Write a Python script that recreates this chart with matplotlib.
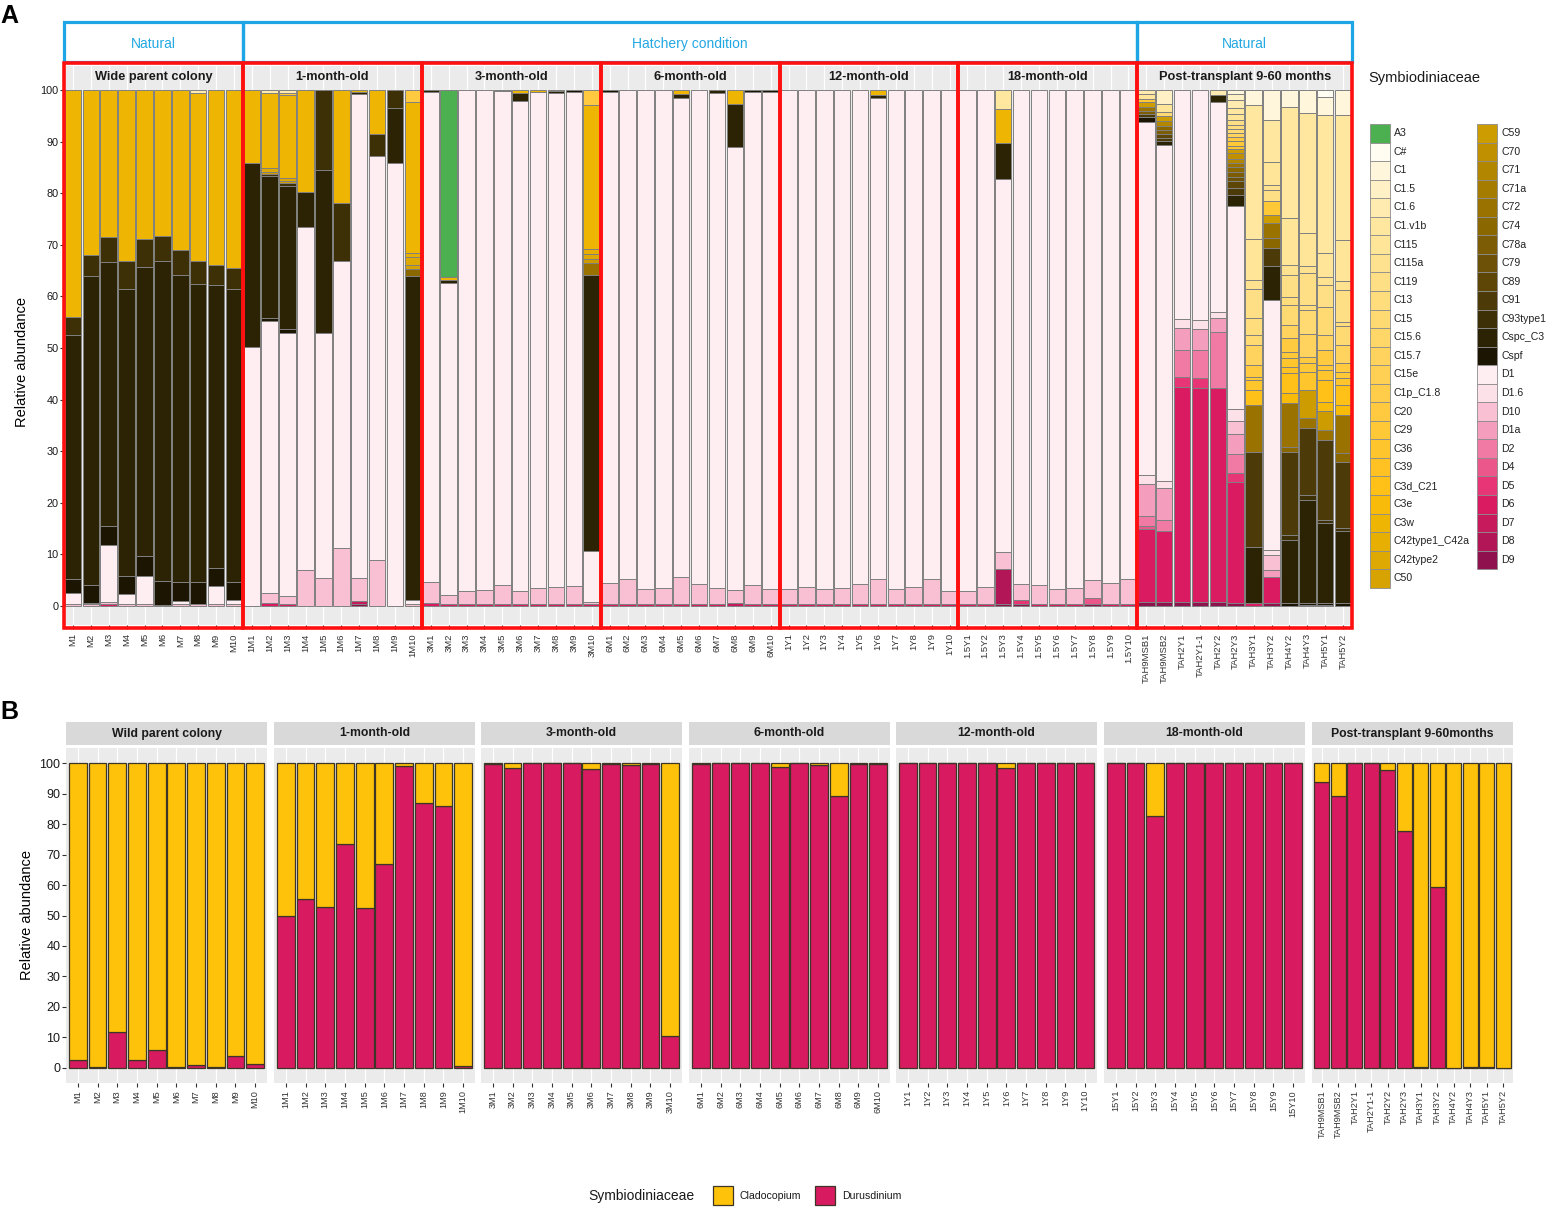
import numpy as np
import matplotlib
matplotlib.use("Agg")
import matplotlib.pyplot as plt
from matplotlib.patches import Rectangle
from matplotlib.transforms import blended_transform_factory

plt.rcParams['font.family'] = ['Liberation Sans', 'DejaVu Sans']

# ---------------- DATA ----------------
types = ["A3", "C#", "C1", "C1.5", "C1.6", "C1.v1b", "C115", "C115a", "C119", "C13", "C15", "C15.6",
         "C15.7", "C15e", "C1p_C1.8", "C20", "C29", "C36", "C39", "C3d_C21", "C3e", "C3w",
         "C42type1_C42a", "C42type2", "C50",
         "C59", "C70", "C71", "C71a", "C72", "C74", "C78a", "C79", "C89", "C91", "C93type1",
         "Cspc_C3", "Cspf", "D1", "D1.6", "D10", "D1a", "D2", "D4", "D5", "D6", "D7", "D8", "D9"]
type_colors = ["#4CAF50", "#FFFCF2", "#FFF6DC", "#FFF0C6", "#FFEBB0", "#FFE7A0", "#FFE598", "#FFE290",
               "#FFDF86", "#FFDC7C", "#FFD972", "#FFD668", "#FFD35E", "#FFD054", "#FFCD4A", "#FFCA40",
               "#FFC836", "#FFC52C", "#FFC222", "#FFC018", "#F8BB0A", "#EFB503", "#E6AF02", "#DEA902",
               "#D6A303",
               "#CC9C00", "#C09000", "#B38600", "#A67C00", "#997200", "#8B6700", "#7C5C04", "#6D5106",
               "#5E4607", "#4C3A08", "#3E3006", "#2C2204", "#1C1501", "#FFEEF1", "#FCE1E8", "#F9C0D3",
               "#F59DBC", "#F07AA3", "#EB568B", "#E73575", "#DA1B62", "#C71A5C", "#B31656", "#8F114D"]

facet_titles_a = ["Wide parent colony", "1-month-old", "3-month-old", "6-month-old", "12-month-old",
                  "18-month-old", "Post-transplant 9-60 months"]
facet_titles_b = ["Wild parent colony", "1-month-old", "3-month-old", "6-month-old", "12-month-old",
                  "18-month-old", "Post-transplant 9-60months"]

wild_samples = ["M1", "M2", "M3", "M4", "M5", "M6", "M7", "M8", "M9", "M10"]
m1_samples = ["1M1", "1M2", "1M3", "1M4", "1M5", "1M6", "1M7", "1M8", "1M9", "1M10"]
m3_samples = ["3M1", "3M2", "3M3", "3M4", "3M5", "3M6", "3M7", "3M8", "3M9", "3M10"]
m6_samples = ["6M1", "6M2", "6M3", "6M4", "6M5", "6M6", "6M7", "6M8", "6M9", "6M10"]
y1_samples = ["1Y1", "1Y2", "1Y3", "1Y4", "1Y5", "1Y6", "1Y7", "1Y8", "1Y9", "1Y10"]
y15_samples_a = ["1.5Y1", "1.5Y2", "1.5Y3", "1.5Y4", "1.5Y5", "1.5Y6", "1.5Y7", "1.5Y8", "1.5Y9", "1.5Y10"]
y15_samples_b = ["15Y1", "15Y2", "15Y3", "15Y4", "15Y5", "15Y6", "15Y7", "15Y8", "15Y9", "15Y10"]
tah_samples = ["TAH9MSB1", "TAH9MSB2", "TAH2Y1", "TAH2Y1-1", "TAH2Y2", "TAH2Y3", "TAH3Y1", "TAH3Y2",
               "TAH4Y2", "TAH4Y3", "TAH5Y1", "TAH5Y2"]

# Panel A: relative abundance (%) of each ITS2 type per sample
wild_comp = [
    {"C3w": 44.0, "C93type1": 3.5, "Cspc_C3": 47.3, "Cspf": 2.6, "D1": 2.3, "D10": 0.3},
    {"C3w": 32.0, "C93type1": 4.1, "Cspc_C3": 59.8, "Cspf": 3.5, "D1": 0.3, "D10": 0.3},
    {"C3w": 28.4, "C93type1": 4.9, "Cspc_C3": 51.2, "Cspf": 3.7, "D1": 11.0, "D10": 0.5, "D6": 0.3},
    {"C3w": 33.1, "C93type1": 5.4, "Cspc_C3": 55.6, "Cspf": 3.5, "D1": 2.1, "D10": 0.3},
    {"C3w": 28.9, "C93type1": 5.4, "Cspc_C3": 56.0, "Cspf": 3.9, "D1": 5.5, "D10": 0.3},
    {"C3w": 28.3, "C93type1": 4.8, "Cspc_C3": 62.0, "Cspf": 4.7, "D10": 0.2},
    {"C3w": 31.1, "C93type1": 4.7, "Cspc_C3": 59.6, "Cspf": 3.6, "D1": 0.6, "D10": 0.4},
    {"C1.6": 0.5, "C3w": 32.6, "C93type1": 4.4, "Cspc_C3": 57.9, "Cspf": 4.3, "D10": 0.3},
    {"C3w": 33.9, "C93type1": 3.9, "Cspc_C3": 54.8, "Cspf": 3.5, "D1": 3.6, "D10": 0.3},
    {"C3w": 34.4, "C93type1": 4.1, "Cspc_C3": 56.9, "Cspf": 3.4, "D1": 0.8, "D10": 0.4},
]
m1_comp = [
    {"C3w": 14.1, "Cspc_C3": 35.7, "D1": 50.2},
    {"C1.6": 0.5, "C3w": 14.7, "C42type2": 0.6, "C59": 0.5, "C93type1": 0.4, "Cspc_C3": 27.4,
     "Cspf": 0.6, "D1": 52.8, "D10": 2.0, "D6": 0.5},
    {"C1.6": 0.5, "C29": 0.5, "C3w": 16.0, "C42type2": 0.6, "C59": 0.5, "C93type1": 0.5,
     "Cspc_C3": 27.7, "Cspf": 0.8, "D1": 50.9, "D10": 1.7, "D6": 0.3},
    {"C3w": 19.7, "Cspc_C3": 6.8, "D1": 66.6, "D10": 6.9},
    {"C93type1": 15.5, "Cspc_C3": 31.6, "D1": 47.4, "D10": 5.5},
    {"C3w": 21.9, "C93type1": 11.2, "D1": 55.6, "D10": 11.3},
    {"C3w": 0.3, "Cspc_C3": 0.5, "D1": 93.8, "D10": 4.4, "D7": 0.7, "D9": 0.3},
    {"C3w": 8.5, "C93type1": 4.2, "D1": 78.4, "D10": 8.9},
    {"C93type1": 3.4, "Cspc_C3": 10.7, "D1": 85.9},
    {"C20": 2.3, "C3w": 29.2, "C42type1_C42a": 0.9, "C42type2": 1.6, "C50": 0.7, "C74": 1.3,
     "Cspc_C3": 62.8, "D1": 0.8, "D10": 0.4},
]
m3_comp = [
    {"Cspc_C3": 0.4, "D1": 94.9, "D10": 4.2, "D6": 0.5},
    {"A3": 36.2, "C3w": 0.6, "Cspc_C3": 0.6, "D1": 60.4, "D10": 1.9, "D6": 0.3},
    {"D1": 97.1, "D10": 2.6, "D6": 0.3},
    {"D1": 96.9, "D10": 2.8, "D6": 0.3},
    {"Cspc_C3": 0.2, "D1": 95.7, "D10": 3.8, "D6": 0.3},
    {"C3w": 0.6, "Cspc_C3": 1.6, "D1": 94.8, "D10": 2.7, "D6": 0.3},
    {"C3w": 0.3, "D1": 96.3, "D10": 3.1, "D6": 0.3},
    {"C3w": 0.2, "Cspc_C3": 0.3, "D1": 95.9, "D10": 3.3, "D6": 0.3},
    {"Cspf": 0.3, "D1": 95.8, "D10": 3.6, "D6": 0.3},
    {"C20": 3.0, "C3w": 27.8, "C42type1_C42a": 1.0, "C42type2": 1.0, "C59": 0.8, "C72": 2.2,
     "Cspc_C3": 53.5, "D1": 10.0, "D10": 0.4, "D6": 0.3},
]
m6_comp = [
    {"Cspf": 0.3, "D1": 95.3, "D10": 4.1, "D6": 0.3},
    {"D1": 94.7, "D10": 5.0, "D6": 0.3},
    {"D1": 96.7, "D10": 3.0, "D6": 0.3},
    {"D1": 96.5, "D10": 3.2, "D6": 0.3},
    {"C3w": 0.8, "Cspc_C3": 0.8, "D1": 92.7, "D10": 5.4, "D6": 0.3},
    {"D1": 95.8, "D10": 3.9, "D6": 0.3},
    {"Cspc_C3": 0.6, "D1": 96.0, "D10": 3.1, "D6": 0.3},
    {"C3w": 2.7, "Cspc_C3": 8.3, "D1": 85.9, "D10": 2.6, "D7": 0.5},
    {"Cspf": 0.3, "D1": 95.7, "D10": 3.7, "D6": 0.3},
    {"Cspf": 0.4, "D1": 96.3, "D10": 3.0, "D6": 0.3},
]
y1_comp = [
    {"D1": 96.8, "D10": 2.9, "D6": 0.3},
    {"D1": 96.4, "D10": 3.3, "D6": 0.3},
    {"D1": 96.8, "D10": 2.9, "D6": 0.3},
    {"D1": 96.5, "D10": 3.2, "D6": 0.3},
    {"D1": 95.7, "D10": 4.0, "D6": 0.3},
    {"C3w": 1.0, "Cspc_C3": 0.6, "D1": 93.1, "D10": 5.0, "D6": 0.3},
    {"D1": 96.7, "D10": 3.0, "D6": 0.3},
    {"D1": 96.3, "D10": 3.4, "D6": 0.3},
    {"D1": 94.8, "D10": 4.9, "D6": 0.3},
    {"D1": 97.1, "D10": 2.6, "D6": 0.3},
]
y15_comp = [
    {"D1": 97.1, "D10": 2.6, "D6": 0.3},
    {"D1": 96.4, "D10": 3.3, "D6": 0.3},
    {"C1.v1b": 3.6, "C3w": 6.7, "Cspc_C3": 6.9, "D1": 72.3, "D10": 3.4, "D8": 6.8, "D9": 0.3},
    {"D1": 95.8, "D10": 3.0, "D5": 0.9, "D9": 0.3},
    {"D1": 96.0, "D10": 3.7, "D6": 0.3},
    {"D1": 96.8, "D10": 2.9, "D6": 0.3},
    {"D1": 96.6, "D10": 3.1, "D6": 0.3},
    {"D1": 94.9, "D10": 3.6, "D4": 1.2, "D9": 0.3},
    {"D1": 95.6, "D10": 4.1, "D6": 0.3},
    {"D1": 94.8, "D10": 4.9, "D6": 0.3},
]
tah_comp = [
    {"C1.6": 0.8, "C115": 1.0, "C29": 0.6, "C59": 0.8, "C72": 0.8, "C78a": 0.6, "C91": 0.6,
     "Cspf": 1.0, "D1": 68.5, "D1.6": 1.7, "D1a": 6.2, "D2": 1.8, "D4": 0.7, "D6": 14.2, "D9": 0.7},
    {"C1.5": 2.7, "C115": 1.6, "C15": 0.8, "C59": 1.0, "C71": 0.8, "C74": 0.9, "C78a": 0.7,
     "C89": 0.8, "C91": 0.5, "Cspc_C3": 0.9, "D1": 65.0, "D1.6": 1.4, "D1a": 6.2, "D2": 2.1,
     "D6": 13.9, "D9": 0.7},
    {"D1": 44.4, "D1.6": 1.8, "D1a": 4.1, "D2": 5.3, "D5": 2.0, "D6": 41.7, "D9": 0.7},
    {"D1": 44.6, "D1.6": 1.8, "D1a": 4.0, "D2": 5.4, "D5": 2.0, "D6": 41.5, "D9": 0.7},
    {"C1.6": 1.0, "Cspc_C3": 1.3, "D1": 40.8, "D1.6": 1.0, "D1a": 2.8, "D2": 10.9, "D6": 41.5,
     "D9": 0.7},
    {"C1": 0.8, "C1.5": 1.2, "C1.6": 1.5, "C1.v1b": 1.2, "C115": 1.2, "C119": 0.8, "C13": 0.8,
     "C15": 0.8, "C15.7": 0.8, "C20": 0.8, "C29": 0.9, "C36": 0.7, "C59": 0.8, "C70": 1.0,
     "C71": 0.8, "C72": 0.8, "C74": 0.9, "C78a": 1.0, "C79": 0.9, "C89": 1.2, "C91": 1.5,
     "Cspc_C3": 2.0, "D1": 39.4, "D1.6": 2.4, "D10": 2.5, "D1a": 3.8, "D2": 3.8, "D5": 1.7,
     "D6": 23.5, "D9": 0.5},
    {"C1": 3.0, "C1.v1b": 25.9, "C115": 7.9, "C115a": 1.8, "C119": 5.6, "C13": 3.3, "C15": 1.9,
     "C15.7": 3.9, "C20": 2.3, "C29": 0.6, "C36": 1.9, "C3d_C21": 2.9, "C72": 9.1, "C91": 18.4,
     "Cspc_C3": 10.9, "D6": 0.6},
    {"C1": 5.8, "C1.v1b": 8.2, "C115": 4.4, "C115a": 1.0, "C119": 2.2, "C29": 2.6, "C59": 1.5,
     "C72": 3.0, "C74": 2.0, "C91": 3.5, "Cspc_C3": 6.5, "D1": 48.4, "D1.6": 1.0, "D10": 2.9,
     "D1a": 1.4, "D6": 5.0, "D9": 0.6},
    {"C1": 3.2, "C1.v1b": 21.7, "C115": 9.0, "C115a": 2.0, "C119": 4.2, "C13": 1.6, "C15": 3.8,
     "C15.7": 2.6, "C20": 2.6, "C29": 1.2, "C36": 1.7, "C39": 1.2, "C3d_C21": 3.9, "C3e": 2.0,
     "C72": 8.4, "C74": 1.0, "C91": 16.1, "C93type1": 1.0, "Cspc_C3": 12.2, "Cspf": 0.6},
    {"C1": 4.5, "C1.v1b": 23.3, "C115": 6.4, "C115a": 1.3, "C119": 6.2, "C13": 0.9, "C15": 4.6,
     "C15.7": 4.5, "C20": 1.3, "C29": 1.6, "C36": 3.5, "C59": 5.5, "C72": 1.9, "C91": 13.0,
     "C93type1": 1.0, "Cspc_C3": 19.9, "Cspf": 0.4, "D6": 0.2},
    {"C#": 1.4, "C1": 3.4, "C1.v1b": 26.8, "C115": 4.6, "C115a": 1.6, "C119": 4.2, "C15": 5.5,
     "C15.7": 2.9, "C20": 2.9, "C29": 1.0, "C36": 1.9, "C3d_C21": 4.2, "C3e": 1.9, "C59": 3.6,
     "C72": 1.9, "C91": 15.5, "C93type1": 0.6, "Cspc_C3": 15.5, "Cspf": 0.5, "D6": 0.1},
    {"C1": 4.8, "C1.v1b": 24.3, "C115": 8.0, "C115a": 1.7, "C119": 6.1, "C13": 0.8, "C15": 3.7,
     "C15.7": 3.6, "C20": 1.6, "C29": 1.3, "C36": 1.3, "C3d_C21": 3.8, "C3e": 2.0, "C72": 7.4,
     "C74": 1.6, "C91": 12.9, "C93type1": 0.6, "Cspc_C3": 14.0, "Cspf": 0.5},
]

# Panel B: genus-level relative abundance (% Durusdinium; Cladocopium = rest)
genera = ["Cladocopium", "Durusdinium"]
genus_colors = ["#FFC20A", "#D81B60"]
wild_durus = [2.5, 0.3, 11.8, 2.4, 5.8, 0.2, 1.0, 0.3, 3.9, 1.2]
m1_durus = [50.0, 55.3, 52.9, 73.4, 52.6, 66.8, 99.1, 87.1, 85.8, 0.6]
m3_durus = [99.6, 98.3, 100, 100, 100, 98.0, 99.7, 99.5, 99.7, 10.5]
m6_durus = [99.7, 100, 100, 100, 98.6, 100, 99.4, 89.2, 99.7, 99.6]
y1_durus = [100, 100, 100, 100, 100, 98.5, 100, 100, 100, 100]
y15_durus = [100, 100, 82.7, 100, 100, 100, 100, 100, 100, 100]
tah_durus = [93.8, 89.3, 100, 100, 97.7, 77.6, 0.3, 59.3, 0, 0.2, 0.1, 0]

# ---------------- FIGURE ----------------
W, H = 1549, 1213
fig = plt.figure(figsize=(W / 100, H / 100), dpi=100)


def add_ax(l, t, r, b):
    return fig.add_axes([l / W, 1 - b / H, (r - l) / W, (b - t) / H])


def fxy(x, y):
    return x / W, 1 - y / H


# ---------- Panel A ----------
groups_a = [wild_samples, m1_samples, m3_samples, m6_samples, y1_samples, y15_samples_a, tah_samples]
comps_a = [wild_comp, m1_comp, m3_comp, m6_comp, y1_comp, y15_comp, tah_comp]
samples_a = sum(groups_a, [])
comp_a = sum(comps_a, [])
n_a = len(samples_a)
idx = {t: i for i, t in enumerate(types)}
mat = np.zeros((len(types), n_a))
for j, comp in enumerate(comp_a):
    for t, v in comp.items():
        mat[idx[t], j] = v

axA = add_ax(64, 66, 1352, 625)
axA.set_facecolor("#EBEBEB")
xa = np.arange(n_a)
axA.set_xlim(-0.5, n_a - 0.5)
axA.set_ylim(-3.68, 104.65)
for xv in xa:
    axA.axvline(xv, color="white", lw=0.9, zorder=0)
bottom = np.zeros(n_a)
for i in reversed(range(len(types))):
    vals = mat[i]
    m = vals > 0
    if m.any():
        axA.bar(xa[m], vals[m], bottom=bottom[m], width=0.92, color=type_colors[i],
                edgecolor="#808080", linewidth=0.7, zorder=2)
    bottom += vals
for s in axA.spines.values():
    s.set_visible(False)
axA.set_yticks(np.arange(0, 101, 10))
axA.set_yticklabels([str(v) for v in range(0, 101, 10)], fontsize=7.8, color="#1a1a1a")
axA.set_xticks(xa)
axA.set_xticklabels(samples_a, rotation=90, fontsize=6.8, color="#333333")
axA.tick_params(axis="y", length=3, width=0.8, color="#333333", pad=1)
axA.tick_params(axis="x", length=3, width=0.8, color="#333333", pad=3)
axA.set_ylabel("Relative abundance", fontsize=10.5, labelpad=4)
axA.yaxis.set_label_coords(-0.027, 0.47)

# facet strips titles, red boxes, blue condition boxes
tr = blended_transform_factory(axA.transData, fig.transFigure)
starts = np.cumsum([0] + [len(g) for g in groups_a])
for k, title in enumerate(facet_titles_a):
    x0, x1 = starts[k] - 0.5, starts[k + 1] - 0.5
    axA.text((x0 + x1) / 2, 102.5, title, ha="center", va="center", fontsize=9.2,
             fontweight="bold", color="#1a1a1a")
    y_top = 1 - 63 / H
    y_bot = 1 - 628 / H
    fig.patches.append(Rectangle((x0, y_bot), x1 - x0, y_top - y_bot, transform=tr, fill=False,
                                 edgecolor="#FF1010", linewidth=2.6, zorder=10))
cond = [("Natural", 0, 1), ("Hatchery condition", 1, 6), ("Natural", 6, 7)]
for lab, a, b in cond:
    x0, x1 = starts[a] - 0.5, starts[b] - 0.5
    yt, yb = 1 - 22 / H, 1 - 62 / H
    fig.patches.append(Rectangle((x0, yb), x1 - x0, yt - yb, transform=tr, fill=False,
                                 edgecolor="#1EA5E6", linewidth=2.3, zorder=9))
    fig.text((x0 + x1) / 2, 1 - 44 / H, lab, transform=tr, ha="center", va="center",
             fontsize=10, color="#22A8E2")

# Legend A
fig.text(*fxy(1368, 78), "Symbiodiniaceae", fontsize=10.5, ha="left", va="center", color="#1a1a1a")
rowh = 18.55
col_split = 25
for i, (t, c) in enumerate(zip(types, type_colors)):
    col = 0 if i < col_split else 1
    r = i if col == 0 else i - col_split
    kx = 1370 if col == 0 else 1477
    ky = 124 + r * rowh
    l, b = fxy(kx, ky + rowh)
    fig.patches.append(Rectangle((l, b), 20 / W, rowh / H, transform=fig.transFigure,
                                 facecolor=c, edgecolor="#8c8c8c", linewidth=0.6))
    fig.text(*fxy(kx + 24, ky + rowh / 2), t, fontsize=7.6, ha="left", va="center", color="#222222")

fig.text(*fxy(0, 16), "A", fontsize=18, fontweight="bold", ha="left", va="center")
fig.text(*fxy(0, 712), "B", fontsize=18, fontweight="bold", ha="left", va="center")

# ---------- Panel B ----------
groups_b = [wild_samples, m1_samples, m3_samples, m6_samples, y1_samples, y15_samples_b, tah_samples]
durus_b = [wild_durus, m1_durus, m3_durus, m6_durus, y1_durus, y15_durus, tah_durus]
lefts = [66, 274, 481, 689, 896, 1104, 1312]
for k in range(7):
    l = lefts[k]
    ax = add_ax(l, 748, l + 201, 1083)
    ax.set_facecolor("#EBEBEB")
    smp = groups_b[k]
    d = np.array(durus_b[k], dtype=float)
    c = 100 - d
    x = np.arange(len(smp))
    for xv in x:
        ax.axvline(xv, color="white", lw=0.9, zorder=0)
    ax.bar(x, d, width=0.9, color=genus_colors[1], edgecolor="#3d3526", linewidth=0.9, zorder=2)
    ax.bar(x, c, bottom=d, width=0.9, color=genus_colors[0], edgecolor="#3d3526", linewidth=0.9,
           zorder=2)
    ax.set_xlim(-0.6, len(smp) - 0.4)
    ax.set_ylim(-5, 105)
    for s in ax.spines.values():
        s.set_visible(False)
    ax.set_xticks(x)
    ax.set_xticklabels(smp, rotation=90, fontsize=6.6, color="#333333")
    ax.tick_params(axis="x", length=3, width=0.8, color="#333333", pad=2)
    ax.set_yticks(np.arange(0, 101, 10))
    if k == 0:
        ax.set_yticklabels([str(v) for v in range(0, 101, 10)], fontsize=9, color="#1a1a1a")
        ax.tick_params(axis="y", length=3, width=0.8, color="#333333", pad=1)
        ax.set_ylabel("Relative abundance", fontsize=10.5, labelpad=4)
    else:
        ax.tick_params(axis="y", length=0, labelleft=False)
    sax = add_ax(l, 722, l + 201, 745)
    sax.set_facecolor("#D9D9D9")
    sax.set_xticks([])
    sax.set_yticks([])
    for s in sax.spines.values():
        s.set_visible(False)
    sax.text(0.5, 0.5, facet_titles_b[k], ha="center", va="center", fontsize=8.8,
             fontweight="bold", color="#1a1a1a", transform=sax.transAxes)

# Legend B
fig.text(*fxy(588, 1196), "Symbiodiniaceae", fontsize=10, ha="left", va="center", color="#1a1a1a")
for (gx, tx), g, gc in zip([(713, 740), (815, 842)], genera, genus_colors):
    l, b = fxy(gx, 1205)
    fig.patches.append(Rectangle((l, b), 20 / W, 19 / H, transform=fig.transFigure,
                                 facecolor=gc, edgecolor="#3d3526", linewidth=0.9))
    fig.text(*fxy(tx, 1196), g, fontsize=7.6, ha="left", va="center", color="#1a1a1a")

fig.savefig("out.png", dpi=100)
